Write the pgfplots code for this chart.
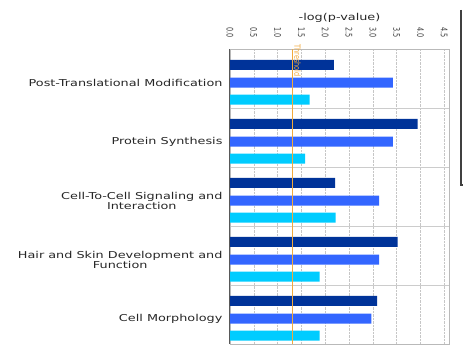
\documentclass[border=0pt]{standalone}
\usepackage{pgfplots}
\pgfplotsset{compat=1.18}
\usepackage{fontspec}
\setmainfont{DejaVu Sans}[FakeStretch=1.35]
\newfontfamily\plainfont{DejaVu Sans}
\definecolor{cdark}{HTML}{003399}
\definecolor{cblue}{HTML}{3366FF}
\definecolor{ccyan}{HTML}{00CCFF}
\definecolor{thr}{HTML}{F2A93B}
\newcommand{\tl}[1]{\scalebox{1}[1.4]{#1}}
\begin{document}
\begin{tikzpicture}
\begin{axis}[
  scale only axis, width=219pt, height=295pt,
  xmin=0, xmax=4.6, ymin=0, ymax=5, y dir=reverse,
  clip=false,
  xtick={0,0.5,1,1.5,2,2.5,3,3.5,4,4.5},
  xticklabels={\tl{0.0},\tl{0.5},\tl{1.0},\tl{1.5},\tl{2.0},\tl{2.5},\tl{3.0},\tl{3.5},\tl{4.0},\tl{4.5}},
  xticklabel pos=upper,
  xticklabel style={font=\plainfont\fontsize{6.5}{7}\selectfont, text=black!75, rotate=-90, anchor=east},
  xticklabel shift=8pt,
  xmajorgrids, major x grid style={densely dotted, gray!45},
  ytick={1,2,3,4}, yticklabels={}, ymajorgrids, major y grid style={gray!40},
  major tick length=0pt,
  extra y ticks={0.57,1.57,2.57,3.57,4.57},
  extra y tick labels={{Post-Translational Modification},{Protein Synthesis},{Cell-To-Cell Signaling and\\Interaction},{Hair and Skin Development and\\Function},{Cell Morphology}},
  extra y tick style={grid=none, major tick length=0pt, yticklabel style={font=\fontsize{9.5}{8.5}\selectfont, align=center, text=black!85, xshift=-4pt}},
  axis line style={gray!55},
  title={-log(p-value)},
  title style={font=\fontsize{9.5}{10}\selectfont, at={(axis description cs:0.5,1)}, anchor=base, yshift=23pt, text=black!85},
  xbar, bar width=10pt,
]
\addplot[bar shift=0pt, fill=cdark, draw=none] coordinates {(2.18,0.27) (3.94,1.27) (2.21,2.27) (3.52,3.27) (3.09,4.27)};
\addplot[bar shift=0pt, fill=cblue, draw=none] coordinates {(3.42,0.57) (3.42,1.57) (3.13,2.57) (3.13,3.57) (2.97,4.57)};
\addplot[bar shift=0pt, fill=ccyan, draw=none] coordinates {(1.67,0.86) (1.58,1.86) (2.22,2.86) (1.88,3.86) (1.88,4.86)};
\draw[gray!70!black, line width=1pt] (rel axis cs:0,0) -- (rel axis cs:0,1);
\draw[thr, line width=0.7pt] (axis cs:1.3,0) -- (axis cs:1.3,5);
\node[font=\plainfont\fontsize{6.5}{6.5}\selectfont, text=thr, rotate=-90, anchor=base west, inner sep=0pt] at (axis cs:1.35,-0.08) {\scalebox{1}[1.3]{Threshold}};
\end{axis}
\draw[black!75, line width=1.5pt] (231pt,334pt) -- (231pt,159pt) -- (234pt,159pt);
\pgfresetboundingbox
\path[use as bounding box] (-230pt,-4pt) rectangle (233pt,344pt);
\end{tikzpicture}
\end{document}
